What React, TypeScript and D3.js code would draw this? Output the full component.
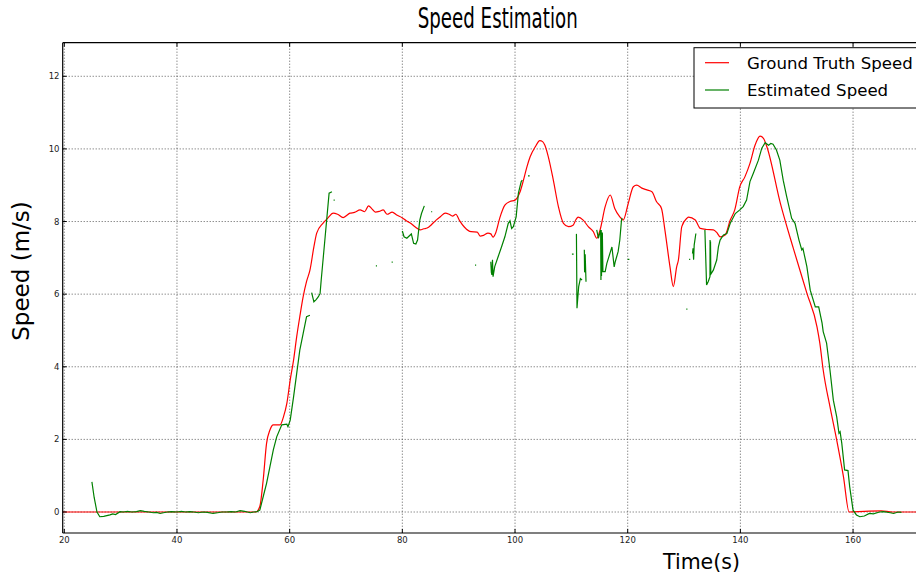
import React from "react";
import * as d3 from "d3";

const xTicks = [20, 40, 60, 80, 100, 120, 140, 160];
const yTicks = [0, 2, 4, 6, 8, 10, 12];

const groundTruth: [number, number][] = [
  [19.7, 0], [54, 0], [54.7, 0.15], [55.3, 0.88], [55.9, 1.89], [56.5, 2.26], [57.1, 2.4], [58.3, 2.4],
  [58.9, 2.62], [59.5, 2.99], [60.1, 3.64], [60.7, 4.19], [61.25, 4.83], [61.8, 5.38], [62.4, 5.93],
  [63.0, 6.35], [63.6, 6.66], [64.3, 7.3], [64.8, 7.68], [65.9, 7.95], [66.8, 8.1], [67.7, 8.23],
  [68.5, 8.2], [69.5, 8.11], [70.7, 8.23], [71.5, 8.25], [72.5, 8.32], [73.3, 8.27], [74, 8.43],
  [74.6, 8.35], [75.2, 8.26], [75.9, 8.28], [76.6, 8.32], [77.3, 8.2], [78.2, 8.26], [79, 8.18],
  [80, 8.1], [80.7, 8.02], [81.4, 7.96], [82.3, 7.85], [83.2, 7.77], [83.8, 7.8], [84.4, 7.82],
  [85.2, 7.92], [86, 8.04], [86.8, 8.14], [87.6, 8.23], [88.3, 8.2], [88.9, 8.15], [89.5, 8.2],
  [90.1, 8.04], [91, 7.85], [92.2, 7.72], [93.3, 7.71], [93.8, 7.6], [94.4, 7.62], [95.2, 7.68],
  [95.7, 7.66], [96.1, 7.57], [96.6, 7.7], [97.3, 8.1], [98.2, 8.45], [99.1, 8.55], [100, 8.59],
  [100.9, 8.82], [101.5, 9.14], [102.1, 9.5], [102.7, 9.79], [103.6, 10.06], [104.4, 10.23],
  [104.9, 10.2], [105.3, 10.1], [105.9, 9.79], [106.8, 9.14], [107.7, 8.41], [108.6, 7.95],
  [109.5, 7.86], [110.3, 7.9], [110.8, 8.05], [111.2, 8.12], [112.1, 8.04], [113, 7.86], [113.9, 7.72],
  [114.5, 7.54], [115.1, 7.77], [116, 8.41], [116.9, 8.73], [117.7, 8.36], [118.6, 8.13], [119.2, 8.04],
  [120.1, 8.5], [121, 8.96], [121.6, 9.0], [122.5, 8.92], [123.4, 8.87], [124.3, 8.82], [125.1, 8.55],
  [126, 8.36], [126.6, 7.77], [127.5, 6.76], [128.1, 6.21], [128.7, 6.76], [129, 6.94], [129.6, 7.86],
  [130.5, 8.09], [130.8, 8.12], [132, 8.04], [132.9, 7.81], [134, 7.78], [135.2, 7.77], [135.8, 7.7],
  [136.4, 7.58], [137.3, 7.63], [138.2, 8.04], [139, 8.32], [139.9, 8.96], [140.8, 9.23], [141.7, 9.6],
  [142.6, 10.1], [143.5, 10.35], [144.1, 10.29], [144.7, 10.06], [147.1, 8.5], [149.4, 7.26],
  [151.8, 6.03], [153.6, 5.1], [154.1, 4.65], [154.7, 3.91], [155.9, 2.9], [157.1, 1.98], [158.3, 0.97],
  [159.3, 0], [162, 0.02], [165, 0.03], [167, 0.0], [175, 0.0],
];

const estimated: ([number, number] | null)[] = [
  [24.9, 0.83], [25.3, 0.4], [25.8, 0.0], [26.3, -0.13], [27, -0.12], [28.1, -0.08], [28.6, -0.05],
  [29.1, -0.07], [29.9, 0.01], [30.5, 0.0], [31.2, 0.02], [32, 0.0], [32.8, 0.01], [33.5, 0.04],
  [34.2, 0.02], [35, 0.0], [35.8, -0.02], [36.4, -0.01], [37, -0.04], [37.6, -0.02], [38.3, 0.0],
  [39, 0.01], [40, 0.0], [40.8, 0.02], [41.5, 0.0], [42.3, 0.01], [43, 0.0], [43.8, -0.02], [44.6, 0.0],
  [45.4, -0.01], [46.4, -0.04], [47.2, -0.02], [48, 0.0], [48.8, 0.0], [49.6, 0.01], [50.4, 0.0],
  [51.2, 0.04], [52, 0.02], [53, -0.02], [53.6, 0.0], [54.2, 0.01], [54.7, 0.05], [55.3, 0.42],
  [55.9, 0.79], [56.5, 1.25], [57.1, 1.71], [57.7, 2.07], [58.6, 2.4], [59.5, 2.42], [59.7, 2.35],
  [60.1, 2.53], [60.7, 3.18], [61.25, 3.82], [61.8, 4.46], [62.4, 4.92], [63.0, 5.38], [63.6, 5.42],
  null,
  [63.9, 6.04], [64.3, 5.79], [64.7, 5.85], [65.1, 5.93], [65.4, 6.02], [65.6, 6.39], [66.3, 7.58],
  [67.0, 8.78], [67.5, 8.82],
  null,
  [67.8, 8.59], [68.0, 8.59],
  null,
  [75.3, 6.78], [75.5, 6.78],
  null,
  [78.1, 6.88], [78.3, 6.88],
  null,
  [80.0, 7.74], [80.3, 7.58], [80.8, 7.54], [81.4, 7.63], [81.6, 7.66], [82.0, 7.4], [82.4, 7.38],
  [82.7, 7.49], [83.1, 8.04], [83.4, 8.22], [83.9, 8.43],
  null,
  [85.1, 8.27], [85.3, 8.27],
  null,
  [92.9, 6.8], [93.1, 6.8],
  null,
  [95.7, 6.89], [95.8, 6.6], [95.9, 6.53], [96.0, 6.95], [96.1, 6.48], [96.4, 6.76], [97.0, 7.03],
  [97.6, 7.3], [98.2, 7.58], [98.8, 7.95], [99.1, 8.02], [99.4, 7.81], [99.7, 7.86], [100.2, 8.13],
  [100.6, 8.78], [101.1, 9.1], [101.3, 9.14],
  null,
  [102.3, 9.26], [102.6, 9.26],
  null,
  [110.1, 7.1], [110.4, 7.1],
  null,
  [110.9, 7.66], [111.0, 5.61], [111.3, 6.21], [111.6, 6.43], [111.9, 6.39],
  null,
  [112.3, 7.22], [112.35, 6.6], [112.45, 7.1], [112.6, 6.34],
  null,
  [114.5, 7.77], [114.8, 7.54], [115.2, 7.77], [115.25, 6.39], [115.3, 7.77], [115.35, 6.5],
  [115.4, 7.7], [115.45, 6.6], [115.5, 7.7], [115.6, 6.62], [116.0, 6.62], [116.3, 6.85], [116.6, 7.0],
  [117.2, 7.3], [117.5, 6.89], [117.6, 6.75], [117.8, 6.9], [118.3, 7.17], [118.6, 7.49], [118.9, 8.04],
  [119.0, 8.1],
  null,
  [120.0, 6.96], [120.3, 6.96],
  null,
  [130.4, 5.59], [130.6, 5.59],
  null,
  [130.9, 6.96], [131.1, 6.96],
  null,
  [131.5, 7.12], [131.6, 7.26], [131.7, 6.95], [131.8, 7.35], [132.1, 7.67],
  null,
  [133.7, 7.77], [134.0, 6.25], [134.3, 6.35], [134.6, 6.48], [134.62, 7.49], [134.65, 6.5],
  [134.7, 7.45], [134.75, 6.55], [135.2, 6.66], [135.8, 6.94], [136.1, 7.3], [136.4, 7.49],
  [137.0, 7.63], [137.6, 7.67], [138.2, 7.95], [139.1, 8.22], [139.9, 8.32], [140.5, 8.41],
  [141.1, 8.59], [141.7, 9.1], [142.3, 9.33], [143.2, 9.69], [143.8, 10.02], [144.4, 10.17],
  [145.0, 10.1], [145.4, 10.15], [145.8, 10.13], [146.4, 9.97], [147.0, 9.69], [147.6, 9.14],
  [148.2, 8.7], [149.1, 8.09], [149.7, 7.95], [150.4, 7.49], [150.9, 7.22], [151.1, 7.26],
  [151.8, 6.76], [152.4, 6.11], [153.3, 5.65], [153.9, 5.65], [154.5, 5.2], [154.7, 4.97],
  [155.3, 4.65], [155.9, 3.91], [156.5, 3.08], [157.1, 2.62], [157.5, 2.17], [157.7, 2.21],
  [158.0, 1.89], [158.5, 1.16], [159.1, 1.14], [159.4, 0.7], [160.0, 0.05], [160.6, -0.08],
  [161.2, -0.13], [162.0, -0.11], [162.9, -0.04], [163.6, -0.05], [164.7, 0.0], [165.4, 0.01],
  [166.6, -0.02], [167.2, -0.04], [168, 0.0], [168.6, -0.01],
];

const seriesNames = ["Ground Truth Speed", "Estimated Speed"];
const seriesColors = ["#ff0000", "#008000"];

const W = 916;
const H = 575;
const left = 62.7;
const right = 932;
const top = 42.7;
const bottom = 533;

export default function App() {
  const x = d3.scaleLinear().domain([19.716, 19.716 + (right - left) / 5.634]).range([left, right]);
  const y = d3.scaleLinear().domain([-0.578, 12.925]).range([bottom, top]);

  const smooth = d3
    .line<[number, number]>()
    .curve(d3.curveMonotoneX)
    .x((d) => x(d[0]))
    .y((d) => y(d[1]));

  const line = d3
    .line<[number, number] | null>()
    .defined((d) => d !== null)
    .x((d) => x((d as [number, number])[0]))
    .y((d) => y((d as [number, number])[1]));

  const font = "'DejaVu Sans', sans-serif";
  const grid = "#333";

  return (
    <svg
      width={W}
      height={H}
      style={{ position: "absolute", left: 0, top: 0, background: "#fff" }}
      fontFamily={font}
    >
      <defs>
        <clipPath id="plot">
          <rect x={left} y={top} width={right - left} height={bottom - top} />
        </clipPath>
      </defs>
      <rect x={0} y={0} width={W} height={H} fill="#fff" />
      {xTicks.map((t) => (
        <line key={"gx" + t} x1={x(t)} x2={x(t)} y1={top} y2={bottom} stroke={grid} strokeWidth={0.8} strokeDasharray="1 2" />
      ))}
      {yTicks.map((t) => (
        <line key={"gy" + t} x1={left} x2={right} y1={y(t)} y2={y(t)} stroke={grid} strokeWidth={0.8} strokeDasharray="1 2" />
      ))}
      <g clipPath="url(#plot)">
        <path d={smooth(groundTruth) || ""} fill="none" stroke={seriesColors[0]} strokeWidth={1.2} />
        <path d={line(estimated) || ""} fill="none" stroke={seriesColors[1]} strokeWidth={1.2} />
      </g>
      {xTicks.map((t) => (
        <g key={"tx" + t}>
          <line x1={x(t)} x2={x(t)} y1={bottom} y2={bottom - 4} stroke="#000" strokeWidth={1} />
          <line x1={x(t)} x2={x(t)} y1={top} y2={top + 4} stroke="#000" strokeWidth={1} />
          <text x={x(t)} y={542.5} fontSize={8.5} textAnchor="middle" fill="#222">
            {t}
          </text>
        </g>
      ))}
      {yTicks.map((t) => (
        <g key={"ty" + t}>
          <line x1={left} x2={left + 4} y1={y(t)} y2={y(t)} stroke="#000" strokeWidth={1} />
          <text x={59.5} y={y(t)} dy="0.35em" fontSize={8.5} textAnchor="end" fill="#222">
            {t}
          </text>
        </g>
      ))}
      <line x1={left} x2={left} y1={top} y2={bottom} stroke="#000" strokeWidth={1.2} />
      <line x1={left} x2={right} y1={top} y2={top} stroke="#000" strokeWidth={1.2} />
      <line x1={left} x2={right} y1={bottom} y2={bottom} stroke="#000" strokeWidth={1.2} />
      <text x={417.7} y={28.3} fontSize={28.5} textLength={160} lengthAdjust="spacingAndGlyphs" fill="#000">
        Speed Estimation
      </text>
      <text x={701.5} y={569} fontSize={20.5} textAnchor="middle" fill="#000">
        Time(s)
      </text>
      <text transform="translate(29,271) rotate(-90)" fontSize={23} textAnchor="middle" fill="#000">
        Speed (m/s)
      </text>
      <rect x={694} y={47.7} width={260} height={60.3} fill="#fff" stroke="#000" strokeWidth={1} />
      {seriesNames.map((n, i) => (
        <g key={n}>
          <line x1={705} x2={729} y1={62.7 + i * 27.3} y2={62.7 + i * 27.3} stroke={seriesColors[i]} strokeWidth={1.2} />
          <text x={747} y={68.5 + i * 27.3} fontSize={16.6} fill="#000">
            {n}
          </text>
        </g>
      ))}
    </svg>
  );
}
